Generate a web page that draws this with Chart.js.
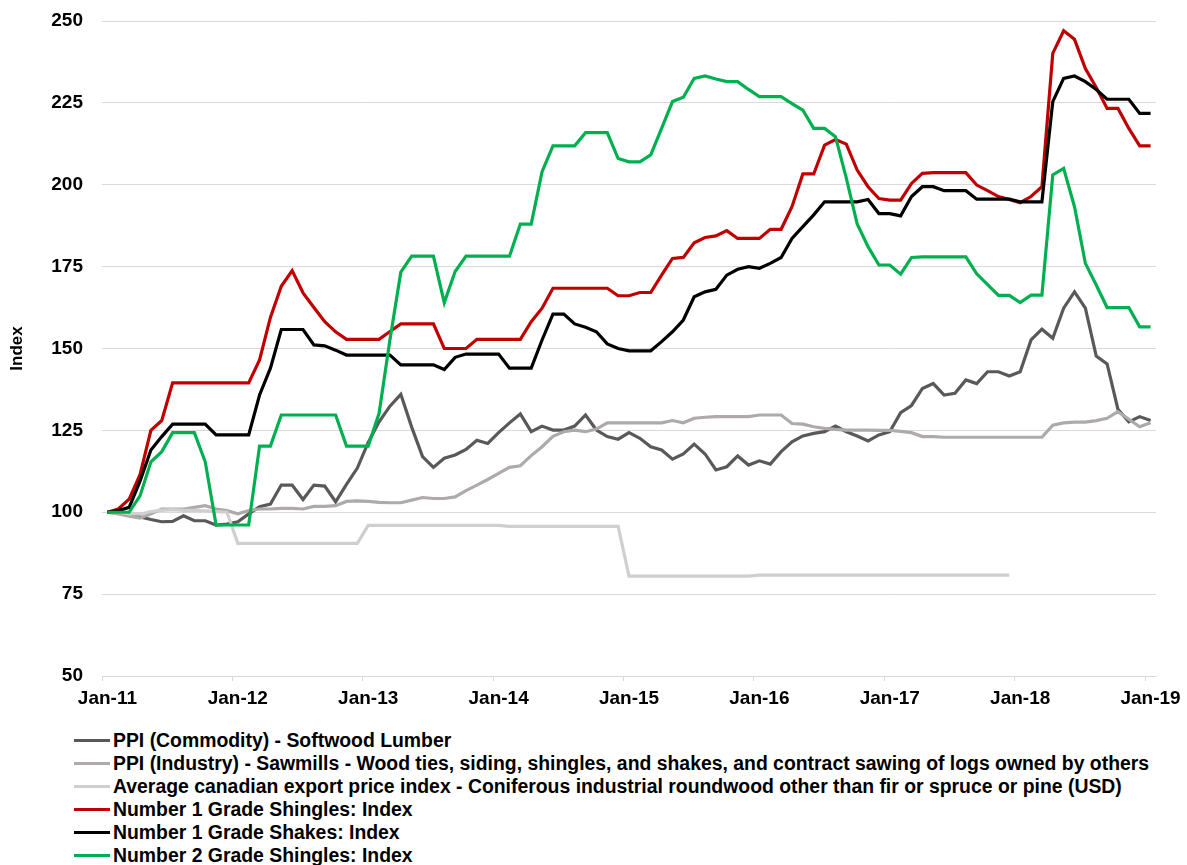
<!DOCTYPE html>
<html lang="en">
<head>
    <meta charset="UTF-8">
    <title>Shingles and shakes indices</title>
    <script src="https://cdn.jsdelivr.net/npm/chart.js@4.4.1/dist/chart.umd.min.js"></script>
    <style>
        body {
            margin: 0;
            background: #fff;
            font-family: Arial, "Liberation Sans", sans-serif;
            overflow: hidden;
        }
        .chart-box {
            position: relative;
            width: 1187px;
            height: 720px;
        }
        #legend {
            list-style: none;
            margin: 9px 0 0 74px;
            padding: 0;
        }
        #legend li {
            display: flex;
            align-items: center;
            height: 23px;
            font-size: 19.4px;
            font-weight: bold;
            color: #000;
            white-space: nowrap;
        }
        #legend .swatch {
            width: 36px;
            height: 3px;
            margin-right: 3px;
        }
    </style>
</head>
<body>

<div class="chart-box">
    <canvas id="priceChart"></canvas>
</div>
<ul id="legend"></ul>

<script>
    // months Jan-11 .. Jan-19
    const monthNames = ['Jan', 'Feb', 'Mar', 'Apr', 'May', 'Jun', 'Jul', 'Aug', 'Sep', 'Oct', 'Nov', 'Dec'];
    const years = ['11', '12', '13', '14', '15', '16', '17', '18', '19'];
    const labels = [];
    years.forEach(y => monthNames.forEach(m => labels.push(m + '-' + y)));
    labels.length = 97;

    const softwoodLumber = [
        100, 99.8, 99.2, 98.6, 97.8, 97.1, 97.2, 98.9, 97.4, 97.4, 96.1, 96.4,
        97.1, 99.5, 101.7, 102.5, 108.3, 108.3, 103.9, 108.3, 108, 103.2, 108.5, 113.5,
        121.3, 127.6, 132.4, 136, 126, 117, 113.7, 116.5, 117.5, 119.2, 122, 121,
        124.3, 127.3, 130, 124.6, 126.3, 125.1, 125.1, 126.3, 129.7, 125.1, 123.1, 122.3,
        124.3, 122.6, 120, 119, 116.2, 117.8, 120.8, 117.8, 112.9, 113.9, 117.2, 114.4,
        115.7, 114.7, 118.5, 121.5, 123.3, 124.1, 124.6, 126.3, 124.6, 123.3, 121.8, 123.6,
        124.6, 130.4, 132.6, 137.8, 139.3, 135.8, 136.3, 140.4, 139.3, 142.9, 142.9, 141.6,
        142.9, 152.6, 155.9, 153.1, 162.3, 167.3, 162.3, 147.7, 145.3, 131.4, 127.6, 129.2,
        128
    ];

    const sawmills = [
        100, 99.5, 98.8, 98.2, 99.5, 101, 101, 101, 101.5, 102, 101, 100.5,
        99.5, 100.5, 101, 101, 101.2, 101.2, 101, 101.8, 101.8, 102, 103.3, 103.5,
        103.3, 103, 102.9, 102.9, 103.7, 104.5, 104.2, 104.2, 104.7, 106.6, 108.3, 110,
        111.9, 113.7, 114.2, 117.3, 120, 123.2, 124.6, 125.1, 124.6, 125.4, 127.3, 127.3,
        127.3, 127.3, 127.3, 127.3, 128, 127.3, 128.7, 129, 129.2, 129.2, 129.2, 129.2,
        129.7, 129.7, 129.7, 127.1, 126.9, 126.1, 125.6, 125.3, 125.1, 125.1, 125.1, 125,
        125, 124.7, 124.3, 123.1, 123.1, 122.9, 122.9, 122.9, 122.9, 122.9, 122.9, 122.9,
        122.9, 122.9, 122.9, 126.6, 127.3, 127.5, 127.5, 128, 128.7, 130.7, 128.4, 126.1,
        127.3
    ];

    const exportPrice = [
        100, 100, 99.6, 99.4, 100.2, 100.6, 100.8, 100.6, 100.6, 100.4, 100.2, 100,
        90.5, 90.5, 90.5, 90.5, 90.5, 90.5, 90.5, 90.5, 90.5, 90.5, 90.5, 90.5,
        96, 96, 96, 96, 96, 96, 96, 96, 96, 96, 96, 96,
        96, 95.7, 95.7, 95.7, 95.7, 95.7, 95.7, 95.7, 95.7, 95.7, 95.7, 95.7,
        80.5, 80.5, 80.5, 80.5, 80.5, 80.5, 80.5, 80.5, 80.5, 80.5, 80.5, 80.5,
        80.8, 80.8, 80.8, 80.8, 80.8, 80.8, 80.8, 80.8, 80.8, 80.8, 80.8, 80.8,
        80.8, 80.8, 80.8, 80.8, 80.8, 80.8, 80.8, 80.8, 80.8, 80.8, 80.8, 80.8,
        null, null, null, null, null, null, null, null, null, null, null, null,
        null
    ];

    const shingles1 = [
        100, 101, 104, 111.5, 125, 128, 139.5, 139.5, 139.5, 139.5, 139.5, 139.5,
        139.5, 139.5, 146.5, 159.5, 169, 173.8, 167, 162.5, 158.2, 155.1, 152.8, 152.8,
        152.8, 152.8, 155.2, 157.5, 157.5, 157.5, 157.5, 150, 150, 150, 152.8, 152.8,
        152.8, 152.8, 152.8, 158.2, 162.3, 168.4, 168.4, 168.4, 168.4, 168.4, 168.4, 166.1,
        166.1, 167.1, 167.1, 172.4, 177.5, 177.8, 182.3, 183.9, 184.4, 186, 183.6, 183.6,
        183.6, 186.4, 186.4, 193.3, 203.3, 203.3, 212.1, 213.8, 212.4, 204.5, 199.4, 195.8,
        195.3, 195.3, 200.4, 203.5, 203.7, 203.7, 203.7, 203.7, 199.9, 198.2, 196.4, 195.5,
        194.5, 196.4, 199.4, 240.1, 247, 244.4, 235.5, 229.7, 223.3, 223.3, 217.2, 211.9,
        211.9
    ];

    const shakes1 = [
        100, 100.5, 101.5, 109.5, 119, 123.1, 126.9, 126.9, 126.9, 126.9, 123.6, 123.6,
        123.6, 123.6, 135.8, 144, 155.8, 155.8, 155.8, 151.1, 150.8, 149.5, 148, 148,
        148, 148, 148, 145, 145, 145, 145, 143.6, 147.3, 148.3, 148.3, 148.3,
        148.3, 144, 144, 144, 152.6, 160.5, 160.5, 157.5, 156.5, 155.1, 151.4, 150,
        149.3, 149.3, 149.3, 152.1, 155.1, 158.7, 165.8, 167.3, 168.1, 172.4, 174.2, 175,
        174.5, 176, 177.8, 183.6, 187.2, 190.8, 194.8, 194.8, 194.8, 194.8, 195.5, 191.2,
        191.2, 190.5, 196.4, 199.4, 199.4, 198.2, 198.2, 198.2, 195.6, 195.6, 195.6, 195.6,
        194.8, 194.8, 194.8, 225.4, 232.5, 233.2, 231.5, 229.1, 226.1, 226.1, 226.1, 221.8,
        221.8
    ];

    const shingles2 = [
        100, 100, 100, 105, 115.4, 118.5, 124.3, 124.3, 124.3, 115.4, 96.1, 96.1,
        96.1, 96.1, 120.2, 120.2, 129.7, 129.7, 129.7, 129.7, 129.7, 129.7, 120.2, 120.2,
        120.2, 130.2, 152.7, 173.3, 178.2, 178.2, 178.2, 164, 173.5, 178.2, 178.2, 178.2,
        178.2, 178.2, 188, 188, 204, 211.9, 211.9, 211.9, 215.9, 215.9, 215.9, 208,
        207, 207, 209.1, 217.2, 225.4, 226.7, 232.5, 233.2, 232.3, 231.5, 231.5, 229.1,
        226.9, 226.9, 226.9, 224.8, 222.8, 217.2, 217.2, 214.7, 202, 188, 181.1, 175.5,
        175.5, 172.7, 177.8, 178, 178, 178, 178, 178, 172.8, 169.5, 166.2, 166.2,
        164, 166.3, 166.3, 203, 205, 193.3, 176, 169.4, 162.5, 162.5, 162.5, 156.6,
        156.6
    ];

    Chart.defaults.font.family = 'Arial, "Liberation Sans", sans-serif';
    Chart.defaults.color = '#000';

    function line(label, data, color, order) {
        return {
            label: label,
            data: data,
            borderColor: color,
            backgroundColor: color,
            borderWidth: 3.2,
            pointRadius: 0,
            tension: 0,
            fill: false,
            order: order
        };
    }

    const ctx = document.getElementById('priceChart').getContext('2d');
    const priceChart = new Chart(ctx, {
        type: 'line',
        data: {
            labels: labels,
            datasets: [
                line('PPI (Commodity) - Softwood Lumber', softwoodLumber, '#595959', 6),
                line('PPI (Industry) - Sawmills - Wood ties, siding, shingles, and shakes, and contract sawing of logs owned by others', sawmills, '#aeaaaa', 5),
                line('Average canadian export price index - Coniferous industrial roundwood other than fir or spruce or pine (USD)', exportPrice, '#d0cece', 4),
                line('Number 1 Grade Shingles: Index', shingles1, '#c00000', 3),
                line('Number 1 Grade Shakes: Index', shakes1, '#000000', 2),
                line('Number 2 Grade Shingles: Index', shingles2, '#00b050', 1)
            ]
        },
        options: {
            responsive: true,
            maintainAspectRatio: false,
            animation: false,
            layout: { padding: { top: 21, right: 31, bottom: 0, left: 0 } },
            plugins: {
                legend: { display: false },
                tooltip: { enabled: false }
            },
            scales: {
                x: {
                    offset: true,
                    grid: {
                        offset: true,
                        drawOnChartArea: false,
                        tickLength: 5,
                        color: c => (c.index % 12 === 0 ? '#d9d9d9' : 'rgba(0,0,0,0)')
                    },
                    border: { color: '#d9d9d9' },
                    ticks: {
                        autoSkip: false,
                        maxRotation: 0,
                        minRotation: 0,
                        padding: 6,
                        font: { size: 19, weight: 'bold' },
                        callback: (v, i) => (i % 12 === 0 ? labels[i] : '')
                    },
                    afterFit: s => { s.height = 44; }
                },
                y: {
                    min: 50,
                    max: 250,
                    ticks: {
                        stepSize: 25,
                        padding: 3,
                        font: { size: 19, weight: 'bold' }
                    },
                    // invisible tick marks give the gap between labels and plot
                    grid: { color: '#d9d9d9', drawTicks: true, tickLength: 16, tickColor: 'rgba(0,0,0,0)' },
                    border: { display: false },
                    title: {
                        display: true,
                        text: 'Index',
                        font: { size: 17, weight: 'bold' },
                        padding: { top: 7, bottom: 0 }
                    },
                    afterFit: s => { s.width = 102; }
                }
            }
        }
    });

    // legend in dataset order, one item per row
    const legendList = document.getElementById('legend');
    priceChart.data.datasets.forEach(ds => {
        const li = document.createElement('li');
        li.innerHTML = `<span class="swatch" style="background:${ds.borderColor}"></span>${ds.label}`;
        legendList.appendChild(li);
    });
</script>

</body>
</html>
